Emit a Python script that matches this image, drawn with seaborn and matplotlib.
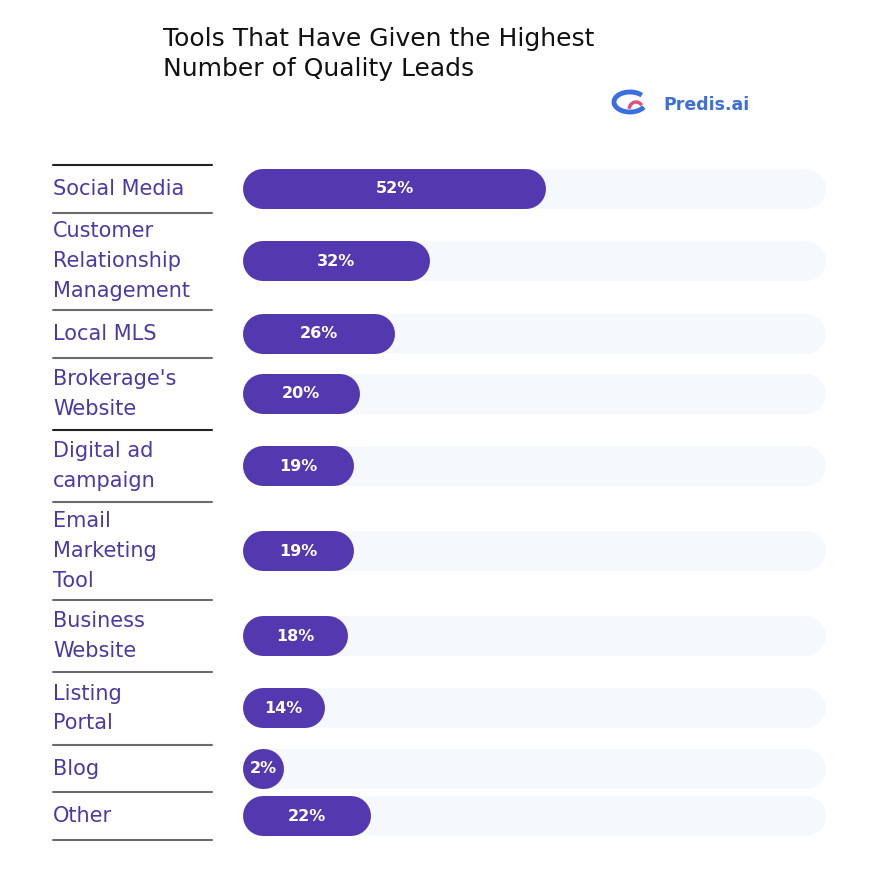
import numpy as np
import pandas as pd
import seaborn as sns
import matplotlib.pyplot as plt
import matplotlib.transforms as mtransforms
from matplotlib.patches import Arc

tools = ["Social Media", "Customer\nRelationship\nManagement", "Local MLS",
         "Brokerage's\nWebsite", "Digital ad\ncampaign", "Email\nMarketing\nTool",
         "Business\nWebsite", "Listing\nPortal", "Blog", "Other"]
shares = [52, 32, 26, 20, 19, 19, 18, 14, 2, 22]

purple = "#5438B0"
label_col = "#4B3AA6"
track_col = "#F5F8FC"

sns.set_theme(style="white")
plt.rcParams["font.family"] = ["DejaVu Sans"]

W, H = 877, 872
fig = plt.figure(figsize=(W / 100, H / 100), dpi=100)
fig.patch.set_facecolor("white")
ax = fig.add_axes([243 / W, 1 - 840 / H, (826 - 243) / W, 675 / H])

df = pd.DataFrame({"tool": tools, "share": shares, "full": 100})
n = len(df)
sns.barplot(data=df, x="full", y="tool", color=track_col, saturation=1, ax=ax)
sns.barplot(data=df, x="share", y="tool", color=purple, saturation=1, ax=ax)

# uneven rows: height depends on how many lines the label has
lines = np.array([t.count("\n") + 1 for t in tools])
row_h = 23 + 25 * lines
edges = np.concatenate([[0], np.cumsum(row_h)])
centers = (edges[:-1] + edges[1:]) / 2
ax.set_xlim(0, 100)
ax.set_ylim(edges[-1], 0)
ax.axis("off")

px_x = ax.bbox.width / 100
radius = 20 / px_x
lw_pt = 40 * 72 / 100

# swap seaborn's rectangles for pill shapes (thick line with round caps)
for i, p in enumerate(list(ax.patches)):
    k = i % n
    w = max(p.get_width(), 2 * radius)
    fc = p.get_facecolor()
    p.remove()
    ax.plot([radius, max(w - radius, radius + 0.15)], [centers[k], centers[k]],
            color=fc, lw=lw_pt, solid_capstyle="round", zorder=1 + i // n)
    if i >= n:
        ax.text(w / 2, centers[k], f"{shares[k]}%", color="white",
                fontsize=11.5, fontweight="bold", ha="center", va="center",
                zorder=5)

trans = mtransforms.blended_transform_factory(fig.transFigure, ax.transData)
for k, t in enumerate(tools):
    ax.text(53 / W, centers[k], t, transform=trans, ha="left", va="center",
            fontsize=15, color=label_col, linespacing=1.62, clip_on=False)
for j, e in enumerate(edges):
    ax.plot([53 / W, 212 / W], [e, e], transform=trans, clip_on=False,
            color="#222222" if j in (0, 4) else "#6b6b6b", lw=1.5)

fig.text(163 / W, 1 - 27 / H, "Tools That Have Given the Highest\nNumber of Quality Leads",
         ha="left", va="top", fontsize=18, color="#111111", linespacing=1.3)

# logo
fig.text(663 / W, 1 - 105 / H, "Predis.ai", ha="left", va="center",
         fontsize=12.5, fontweight="bold", color="#3D6FD6")
lax = fig.add_axes([606 / W, 1 - 130 / H, 50 / W, 50 / H])
lax.set_xlim(0, 50)
lax.set_ylim(50, 0)
lax.axis("off")
lax.add_patch(Arc((24, 22), 32, 20, theta1=20, theta2=330, color="#3A6FE0", lw=3.5))
lax.add_patch(Arc((30, 30), 14, 16, theta1=190, theta2=320, color="#E0507A", lw=2.5))

fig.savefig("out.png", dpi=100, facecolor="white")
